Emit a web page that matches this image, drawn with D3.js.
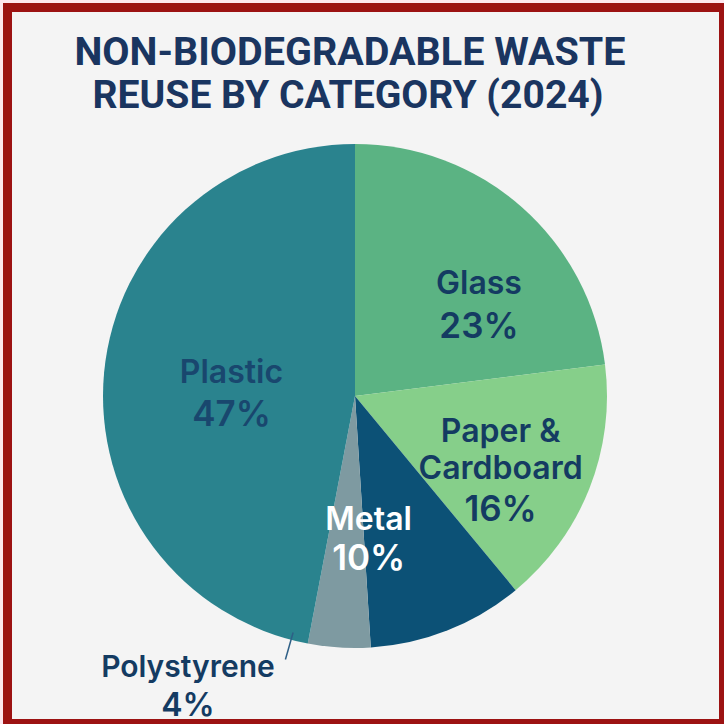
<!DOCTYPE html>
<html><head><meta charset="utf-8">
<script src="https://cdn.jsdelivr.net/npm/d3@7"></script>
<style>html,body{margin:0;padding:0;background:#fde6ee;}svg{display:block;}</style>
</head><body>
<script>
// ---- data ----
const categories = ["Glass", "Paper & Cardboard", "Metal", "Polystyrene", "Plastic"];
const values = [23, 16, 10, 4, 47];
const labelLines = [["Glass"], ["Paper &", "Cardboard"], ["Metal"], ["Polystyrene"], ["Plastic"]];
const titleLines = ["NON-BIODEGRADABLE WASTE", "REUSE BY CATEGORY (2024)"];

// ---- style / layout ----
const W = 724, H = 724;
const colors = {"Glass":"#5bb383","Paper & Cardboard":"#86cf8a","Metal":"#0c5176","Polystyrene":"#7e9aa1","Plastic":"#2a838e"};
const textColor = {"Glass":"#143b62","Paper & Cardboard":"#143b62","Metal":"#ffffff","Polystyrene":"#143b62","Plastic":"#19476e"};
const cx = 355, cy = 396, R = 252;
const FONT = "Inter, Roboto, 'Liberation Sans', sans-serif";
// label nudges relative to centroid (first baseline), and line spacings
const nudge = {"Glass":[24,11],"Paper & Cardboard":[5,-10],"Metal":[-42,-7],"Plastic":[27,1]};
const spacing = {"Glass":[44],"Paper & Cardboard":[37,42],"Metal":[40],"Plastic":[43]};

const svg = d3.select("body").append("svg").attr("width", W).attr("height", H);
svg.append("rect").attr("x",0).attr("y",0).attr("width",W).attr("height",H).attr("fill","#fde6ee");
svg.append("rect").attr("x",3).attr("y",3).attr("width",W-3).attr("height",H-3).attr("fill","#9c1212");
svg.append("rect").attr("x",12).attr("y",12).attr("width",707).attr("height",707).attr("fill","#f4f4f4");

// title
const tW = [551, 511];
titleLines.forEach((t,i)=>{
  svg.append("text").attr("x", [350,348][i]).attr("y", [65,108][i])
    .attr("text-anchor","middle")
    .attr("font-family","Roboto, 'Liberation Sans', sans-serif")
    .attr("font-weight",700).attr("font-size",38)
    .attr("textLength", tW[i]).attr("lengthAdjust","spacingAndGlyphs")
    .attr("fill","#1a3560").text(t);
});

const data = categories.map((c,i)=>({cat:c, value:values[i], lines:labelLines[i]}));
const pie = d3.pie().sort(null).value(d=>d.value);
const arcs = pie(data);
const arc = d3.arc().innerRadius(0).outerRadius(R);
const labelArc = d3.arc().innerRadius(R*0.6).outerRadius(R*0.6);

const g = svg.append("g").attr("transform",`translate(${cx},${cy})`);
g.selectAll("path").data(arcs).join("path")
  .attr("d", arc).attr("fill", d=>colors[d.data.cat]);

// inside labels
arcs.filter(a=>a.data.cat!=="Polystyrene").forEach(a=>{
  const [x,y] = labelArc.centroid(a);
  const n = nudge[a.data.cat];
  const sp = spacing[a.data.cat];
  const lines = a.data.lines.concat([a.data.value+"%"]);
  const t = g.append("text").attr("text-anchor","middle")
    .attr("font-family",FONT)
    .attr("font-weight",600)
    .attr("fill", textColor[a.data.cat]);
  let yy = y+n[1];
  lines.forEach((l,i)=>{
    if(i>0) yy += sp[i-1];
    t.append("tspan").attr("x", x+n[0]).attr("y", yy)
      .attr("font-size", i===lines.length-1?35:32).text(l);
  });
});

// outside label for Polystyrene
const ps = arcs.find(a=>a.data.cat==="Polystyrene");
const [p1x,p1y] = d3.arc().innerRadius(R-15).outerRadius(R-15).centroid(ps);
const [p2x,p2y] = d3.arc().innerRadius(R+12).outerRadius(R+12).centroid(ps);
const [p3x,p3y] = d3.arc().innerRadius(R+20).outerRadius(R+20).centroid(ps);
g.append("line").attr("x1",p1x-47).attr("y1",p1y).attr("x2",p2x-53).attr("y2",p2y)
  .attr("stroke","#2e5f86").attr("stroke-width",1.5);
const pt = g.append("text").attr("text-anchor","middle")
  .attr("font-family",FONT)
  .attr("font-weight",600).attr("fill",textColor["Polystyrene"]);
pt.append("tspan").attr("x",p3x-150).attr("y",p3y+10).attr("font-size",30).text(ps.data.lines[0]);
pt.append("tspan").attr("x",p3x-150).attr("y",p3y+49).attr("font-size",32).text(ps.data.value+"%");
</script>
</body></html>
